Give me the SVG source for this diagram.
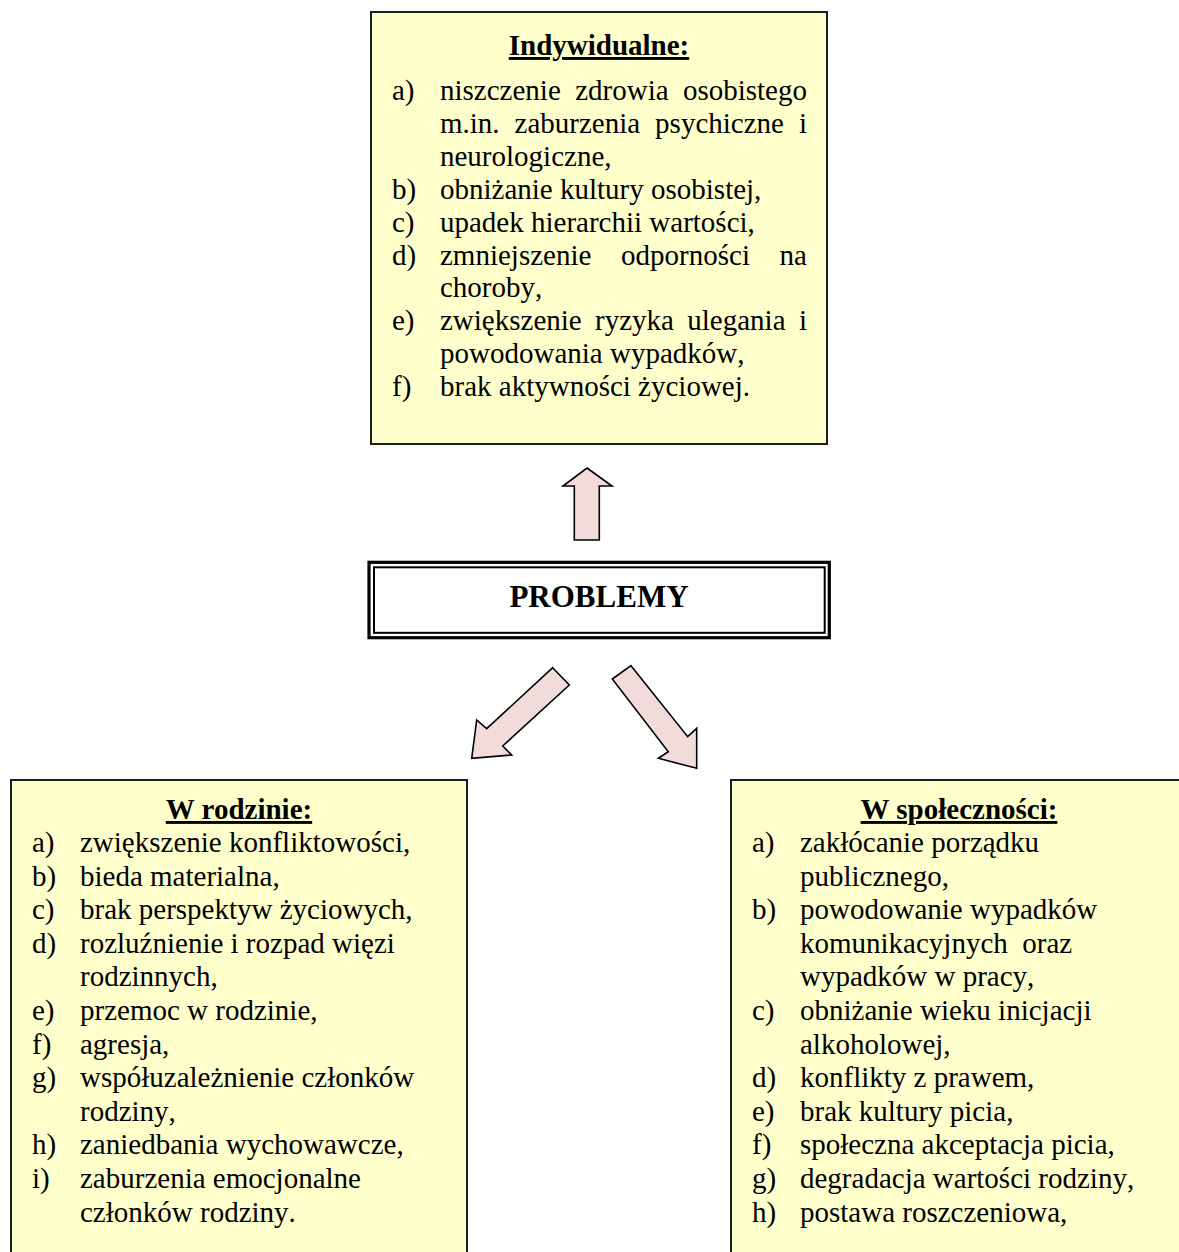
<svg xmlns="http://www.w3.org/2000/svg" width="1179" height="1252" viewBox="0 0 1179 1252">
<style>
.box{fill:#FFFFCC;stroke:#1e1e1e;stroke-width:2}
.t{font-family:"Liberation Serif","Times New Roman",serif;font-size:29px;fill:#000;font-kerning:none}
.h{font-family:"Liberation Serif","Times New Roman",serif;font-size:29px;font-weight:bold;fill:#000;text-anchor:middle;text-decoration:underline}
.arr{fill:#F2DCDB;stroke:#000;stroke-width:1.6;stroke-linejoin:miter}
</style>
<rect x="0" y="0" width="1179" height="1252" fill="#fff"/>
<g id="node-indywidualne">
<rect class="box" x="371" y="12" width="456" height="432"/>
<text class="h" x="599" y="55">Indywidualne:</text>
<text class="t" x="392" y="100">a)</text>
<text class="t" y="100"><tspan x="440">niszczenie</tspan><tspan x="575.2">zdrowia</tspan><tspan x="682.9">osobistego</tspan></text>
<text class="t" y="132.9"><tspan x="440">m.in.</tspan><tspan x="514.6">zaburzenia</tspan><tspan x="655.1">psychiczne</tspan><tspan x="799">i</tspan></text>
<text class="t" x="440" y="165.8">neurologiczne,</text>
<text class="t" x="392" y="198.7">b)</text>
<text class="t" x="440" y="198.7">obniżanie kultury osobistej,</text>
<text class="t" x="392" y="231.6">c)</text>
<text class="t" x="440" y="231.6">upadek hierarchii wartości,</text>
<text class="t" x="392" y="264.5">d)</text>
<text class="t" y="264.5"><tspan x="440">zmniejszenie</tspan><tspan x="621.1">odporności</tspan><tspan x="779.6">na</tspan></text>
<text class="t" x="440" y="297.4">choroby,</text>
<text class="t" x="392" y="330.3">e)</text>
<text class="t" y="330.3"><tspan x="440">zwiększenie</tspan><tspan x="595.1">ryzyka</tspan><tspan x="687.3">ulegania</tspan><tspan x="798.9">i</tspan></text>
<text class="t" x="440" y="363.2">powodowania wypadków,</text>
<text class="t" x="392" y="396.1">f)</text>
<text class="t" x="440" y="396.1">brak aktywności życiowej.</text>
</g>
<g id="node-problemy">
<rect x="369" y="562.3" width="460.3" height="75.4" fill="#fff" stroke="#000" stroke-width="3.2"/>
<rect x="374" y="567.3" width="450.7" height="65.5" fill="none" stroke="#000" stroke-width="2"/>
<text x="599" y="606.7" font-family="Liberation Serif, Times New Roman, serif" font-size="31" font-weight="bold" text-anchor="middle">PROBLEMY</text>
</g>
<g id="node-rodzina">
<rect class="box" x="11" y="780" width="456" height="600"/>
<text class="h" x="239" y="819">W rodzinie:</text>
<text class="t" x="32" y="852">a)</text><text class="t" x="80" y="852">zwiększenie konfliktowości,</text>
<text class="t" x="32" y="885.6">b)</text><text class="t" x="80" y="885.6">bieda materialna,</text>
<text class="t" x="32" y="919.2">c)</text><text class="t" x="80" y="919.2">brak perspektyw życiowych,</text>
<text class="t" x="32" y="952.8">d)</text><text class="t" x="80" y="952.8">rozluźnienie i rozpad więzi</text>
<text class="t" x="80" y="986.4">rodzinnych,</text>
<text class="t" x="32" y="1020">e)</text><text class="t" x="80" y="1020">przemoc w rodzinie,</text>
<text class="t" x="32" y="1053.6">f)</text><text class="t" x="80" y="1053.6">agresja,</text>
<text class="t" x="32" y="1087.2">g)</text><text class="t" x="80" y="1087.2">współuzależnienie członków</text>
<text class="t" x="80" y="1120.8">rodziny,</text>
<text class="t" x="32" y="1154.4">h)</text><text class="t" x="80" y="1154.4">zaniedbania wychowawcze,</text>
<text class="t" x="32" y="1188">i)</text><text class="t" x="80" y="1188">zaburzenia emocjonalne</text>
<text class="t" x="80" y="1221.6">członków rodziny.</text>
</g>
<g id="node-spolecznosc">
<rect class="box" x="731" y="780" width="456" height="600"/>
<text class="h" x="959" y="819">W społeczności:</text>
<text class="t" x="752" y="852">a)</text><text class="t" x="800" y="852">zakłócanie porządku</text>
<text class="t" x="800" y="885.6">publicznego,</text>
<text class="t" x="752" y="919.2">b)</text><text class="t" x="800" y="919.2">powodowanie wypadków</text>
<text class="t" x="800" y="952.8" xml:space="preserve">komunikacyjnych  oraz</text>
<text class="t" x="800" y="986.4">wypadków w pracy,</text>
<text class="t" x="752" y="1020">c)</text><text class="t" x="800" y="1020">obniżanie wieku inicjacji</text>
<text class="t" x="800" y="1053.6">alkoholowej,</text>
<text class="t" x="752" y="1087.2">d)</text><text class="t" x="800" y="1087.2">konflikty z prawem,</text>
<text class="t" x="752" y="1120.8">e)</text><text class="t" x="800" y="1120.8">brak kultury picia,</text>
<text class="t" x="752" y="1154.4">f)</text><text class="t" x="800" y="1154.4">społeczna akceptacja picia,</text>
<text class="t" x="752" y="1188">g)</text><text class="t" x="800" y="1188">degradacja wartości rodziny,</text>
<text class="t" x="752" y="1221.6">h)</text><text class="t" x="800" y="1221.6">postawa roszczeniowa,</text>
</g>
<g id="connectors">
<polygon class="arr" points="587,468 612,486 599.3,486 599.3,540 574.3,540 574.3,486 563,486"/>
<polygon class="arr" points="552.7,667.7 569.3,685 502.7,746 511.7,755 471.7,758.3 476.7,720 486.7,728.7"/>
<polygon class="arr" points="631,665.7 687.7,736.7 696.7,728.3 696.7,768.3 658.3,758.3 668.3,751.7 612.3,679"/>
</g>
</svg>
